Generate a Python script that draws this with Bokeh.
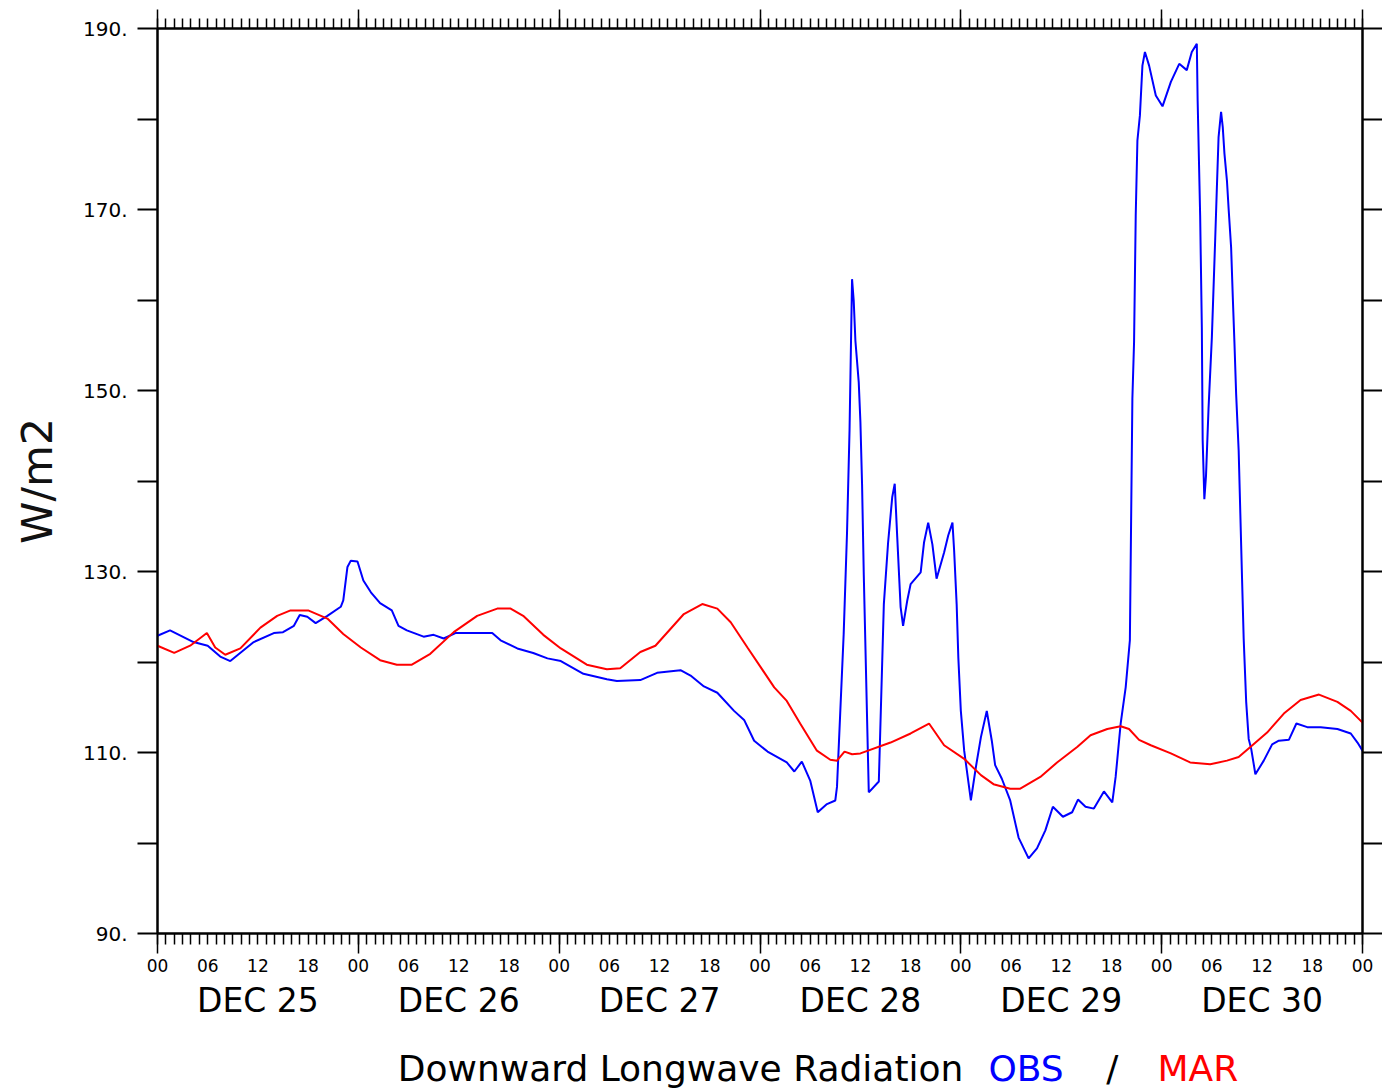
from bokeh.plotting import figure
from bokeh.models import LinearAxis, FixedTicker, Range1d
from bokeh.layouts import column
from bokeh.core.properties import value
from bokeh.embed import file_html
from bokeh.resources import INLINE

# ---- data (hours since DEC 25 00Z, W/m2) ----
obs_hours = [0, 1.5, 4.3, 6.0, 7.5, 8.7, 11.5, 13.9, 15.0, 16.3, 17.0, 17.9, 18.9, 20.3, 21.9,
             22.2, 22.7, 23.1, 23.9, 24.6, 25.5, 26.6, 28.0, 28.8, 29.8, 31.8, 33.0, 34.2, 35.6,
             40.0, 41.0, 43.0, 44.9, 46.6, 48.2, 50.9, 53.7, 54.9, 57.7, 59.7, 62.5, 63.7, 65.3,
             66.9, 68.9, 70.1, 71.3, 72.9, 75.2, 76.1, 77.0, 78.0, 78.9, 80.0, 81.0, 81.2, 82.0,
             82.4, 82.7, 83.0, 83.2, 83.4, 83.8, 84.0, 84.2, 84.4, 85.0, 86.2, 86.8, 87.3, 87.8,
             88.1, 88.4, 88.8, 89.1, 89.6, 90.0, 91.2, 91.6, 92.1, 92.6, 93.1, 94.0, 94.5, 95.0,
             95.2, 95.5, 95.7, 96.0, 96.4, 97.2, 97.8, 98.4, 99.1, 99.7, 100.1, 100.9, 101.9,
             102.9, 104.1, 105.1, 106.1, 107.0, 108.2, 109.3, 110.0, 110.9, 111.9, 113.1, 114.1,
             114.5, 115.1, 115.7, 116.2, 116.5, 116.7, 116.9, 117.1, 117.4, 117.7, 118.0, 118.5,
             119.3, 120.1, 121.1, 122.1, 123.0, 123.6, 124.2, 124.3, 124.6, 124.8, 124.9, 125.1,
             125.3, 125.6, 126.0, 126.4, 126.6, 126.8, 127.1, 127.3, 127.5, 127.8, 128.0, 128.3,
             128.5, 128.7, 128.9, 129.2, 129.4, 129.6, 129.8, 130.1, 130.4, 130.7, 131.2, 132.2,
             133.2, 134.0, 135.2, 136.1, 137.4, 139.0, 141.0, 142.6, 143.4, 144.0]
obs_values = [122.9, 123.5, 122.2, 121.8, 120.6, 120.1, 122.2, 123.2, 123.3, 124.0, 125.2, 125.0,
              124.3, 125.1, 126.1, 126.8, 130.5, 131.2, 131.1, 129.0, 127.7, 126.5, 125.7, 124.0,
              123.5, 122.8, 123.0, 122.6, 123.2, 123.2, 122.4, 121.5, 121.0, 120.4, 120.1, 118.7,
              118.1, 117.9, 118.0, 118.8, 119.1, 118.5, 117.3, 116.6, 114.6, 113.6, 111.3, 110.1,
              108.9, 107.9, 109.0, 106.9, 103.4, 104.3, 104.7, 106.2, 123.1, 134.3, 145.6, 162.3,
              159.9, 155.5, 150.9, 146.5, 139.5, 129.7, 105.6, 106.8, 126.4, 133.1, 138.2, 139.7,
              133.8, 126.1, 124.0, 126.8, 128.6, 129.9, 133.2, 135.4, 133.0, 129.2, 132.1, 134.0,
              135.4, 132.3, 126.4, 120.5, 114.6, 110.2, 104.7, 108.4, 111.7, 114.6, 111.3, 108.6,
              107.1, 104.7, 100.6, 98.3, 99.4, 101.4, 104.0, 102.9, 103.4, 104.8, 104.0, 103.8,
              105.7, 104.5, 107.3, 113.2, 117.2, 122.4, 149.1, 155.3, 169.3, 177.6, 180.4, 185.9,
              187.4, 185.9, 182.6, 181.4, 184.1, 186.1, 185.4, 187.4, 188.3, 182.0, 169.3, 157.0,
              144.5, 138.0, 140.6, 148.0, 155.9, 166.8, 172.5, 178.0, 180.8, 179.1, 176.2, 173.2,
              170.1, 165.8, 160.3, 155.2, 149.6, 143.4, 136.4, 129.4, 122.6, 115.6, 111.5, 110.4,
              107.6, 109.1, 110.9, 111.3, 111.4, 113.2, 112.8, 112.8, 112.6, 112.1, 111.1, 110.2]

mar_hours = [0, 2.0, 3.9, 5.9, 6.9, 8.1, 9.9, 12.3, 14.3, 15.9, 18.0, 20.3, 22.2, 24.3, 26.6, 28.6,
             30.4, 32.6, 35.4, 38.2, 40.6, 42.2, 43.7, 46.1, 48.2, 51.3, 53.7, 55.3, 57.7, 59.5,
             62.9, 65.1, 66.9, 68.5, 70.5, 73.7, 75.2, 76.8, 78.8, 80.4, 81.2, 82.1, 83.0, 84.0,
             87.6, 90.0, 92.2, 94.0, 96.4, 98.4, 99.9, 101.9, 103.1, 105.5, 107.5, 109.9, 111.5,
             113.5, 115.1, 116.1, 117.3, 118.7, 121.1, 123.4, 125.8, 127.8, 129.2, 130.6, 132.6,
             134.6, 136.6, 138.8, 141.0, 142.6, 144.0]
mar_values = [121.8, 121.0, 121.8, 123.2, 121.6, 120.8, 121.5, 123.8, 125.1, 125.7, 125.7, 124.8,
              123.1, 121.6, 120.2, 119.7, 119.7, 120.9, 123.3, 125.1, 125.9, 125.9, 125.1, 123.0,
              121.5, 119.7, 119.2, 119.3, 121.1, 121.8, 125.3, 126.4, 125.9, 124.4, 121.6, 117.2,
              115.7, 113.2, 110.2, 109.2, 109.1, 110.1, 109.8, 109.9, 111.1, 112.1, 113.2, 110.8,
              109.3, 107.5, 106.5, 106.0, 106.0, 107.3, 108.9, 110.6, 111.9, 112.6, 112.9, 112.6,
              111.4, 110.8, 109.9, 108.9, 108.7, 109.1, 109.5, 110.6, 112.2, 114.3, 115.8, 116.4,
              115.6, 114.6, 113.3]

y_ticks = [90, 100, 110, 120, 130, 140, 150, 160, 170, 180, 190]
y_labels = ["90.", "", "110.", "", "130.", "", "150.", "", "170.", "", "190."]
hour_ticks = list(range(0, 145, 6))
hour_labels = ["00", "06", "12", "18"] * 6 + ["00"]
day_ticks = [12, 36, 60, 84, 108, 132]
day_labels = ["DEC 25", "DEC 26", "DEC 27", "DEC 28", "DEC 29", "DEC 30"]
day_bounds = list(range(0, 145, 24))
hourly = list(range(0, 145))
title_parts = ["Downward Longwave Radiation", "OBS", "/", "MAR"]
title_colors = ["black", "#0000ff", "black", "#ff0000"]

FONT = "DejaVu Sans"

p = figure(width=1382, height=1030, x_range=Range1d(0, 144), y_range=Range1d(90, 190),
           output_backend="svg", toolbar_location=None,
           x_axis_location=None, y_axis_location=None,
           min_border_left=157, min_border_right=20, min_border_top=28, min_border_bottom=97)
p.grid.visible = False
p.outline_line_color = "black"
p.outline_line_width = 2
p.background_fill_color = "white"
p.border_fill_color = "white"


def blank(ticks):
    return {t: "" for t in ticks}


# left axis
yl = LinearAxis(ticker=FixedTicker(ticks=y_ticks),
                major_label_overrides=dict(zip(y_ticks, y_labels)),
                major_tick_out=20, major_tick_in=0, minor_tick_out=0, minor_tick_in=0,
                major_label_standoff=10,
                major_label_text_font=FONT, major_label_text_font_size="20px",
                major_label_text_color="black",
                axis_label="W/m2", axis_label_text_font=FONT, axis_label_text_font_size="43px",
                axis_label_text_font_style="normal", axis_label_text_color="#111111",
                axis_label_standoff=18,
                axis_line_width=2, major_tick_line_width=2)
p.add_layout(yl, "left")

# right axis (ticks only)
yr = LinearAxis(ticker=FixedTicker(ticks=y_ticks), major_label_overrides=blank(y_ticks),
                major_tick_out=20, major_tick_in=0, minor_tick_out=0, minor_tick_in=0,
                major_label_standoff=0, major_label_text_font_size="1px",
                axis_line_width=2, major_tick_line_width=2)
p.add_layout(yr, "right")

# top axis (ticks only)
xt = LinearAxis(ticker=FixedTicker(ticks=day_bounds, minor_ticks=hourly),
                major_label_overrides=blank(day_bounds),
                major_tick_out=19, major_tick_in=0, minor_tick_out=10, minor_tick_in=0,
                major_label_standoff=0, major_label_text_font_size="1px",
                axis_line_width=2, major_tick_line_width=1.5, minor_tick_line_width=1.5)
p.add_layout(xt, "above")

# bottom axis: ticks
xb = LinearAxis(ticker=FixedTicker(ticks=day_bounds, minor_ticks=hourly),
                major_label_overrides=blank(day_bounds),
                major_tick_out=20, major_tick_in=0, minor_tick_out=11, minor_tick_in=0,
                major_label_standoff=0, major_label_text_font_size="1px",
                axis_line_width=2, major_tick_line_width=1.5, minor_tick_line_width=1.5)
p.add_layout(xb, "below")

# bottom axis: hour labels
xh = LinearAxis(ticker=FixedTicker(ticks=hour_ticks),
                major_label_overrides=dict(zip(hour_ticks, hour_labels)),
                major_tick_out=0, major_tick_in=0, minor_tick_out=0, minor_tick_in=0,
                axis_line_color=None, major_tick_line_color=None, minor_tick_line_color=None,
                major_label_standoff=5,
                major_label_text_font=FONT, major_label_text_font_size="17px",
                major_label_text_color="black")
p.add_layout(xh, "below")

# bottom axis: day labels
xd = LinearAxis(ticker=FixedTicker(ticks=day_ticks),
                major_label_overrides=dict(zip(day_ticks, day_labels)),
                major_tick_out=0, major_tick_in=0, minor_tick_out=0, minor_tick_in=0,
                axis_line_color=None, major_tick_line_color=None, minor_tick_line_color=None,
                major_label_standoff=6,
                major_label_text_font=FONT, major_label_text_font_size="33px",
                major_label_text_color="black")
p.add_layout(xd, "below")

p.line(obs_hours, obs_values, line_color="#0000ff", line_width=2)
p.line(mar_hours, mar_values, line_color="#ff0000", line_width=2)

# bottom title strip (coloured pieces), same horizontal scale as the main plot
t = figure(width=1382, height=58, x_range=Range1d(0, 144), y_range=Range1d(0, 58),
           output_backend="svg", toolbar_location=None,
           x_axis_location=None, y_axis_location=None,
           min_border_left=157, min_border_right=20, min_border_top=0, min_border_bottom=0)
t.grid.visible = False
t.outline_line_color = None
t.background_fill_color = "white"
t.border_fill_color = "white"
title_x = [96.3, 99.3, 114.1, 119.5]
title_align = ["right", "left", "center", "left"]
t.text(x=title_x, y=[20, 20, 20, 20], text=title_parts, text_color=title_colors,
       text_align=title_align, text_baseline="alphabetic",
       text_font=value(FONT), text_font_size="36px")

open("out.html", "w").write(file_html(column(p, t, spacing=0), INLINE))
